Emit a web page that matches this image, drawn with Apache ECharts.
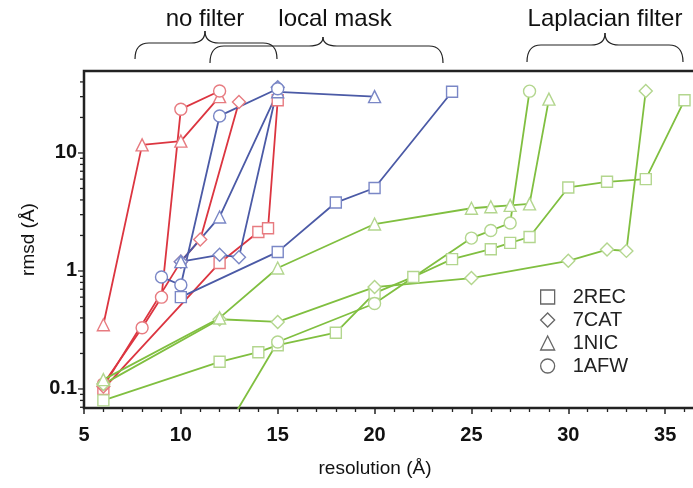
<!DOCTYPE html>
<html>
<head>
<meta charset="utf-8">
<title>rmsd vs resolution</title>
<script src="https://cdn.jsdelivr.net/npm/echarts@6/dist/echarts.min.js"></script>
<style>
  html, body { margin: 0; padding: 0; background: #fff; }
  #chart { width: 693px; height: 488px; }
</style>
</head>
<body>
<div id="chart"></div>
<script>
// Protein names and the marker each one uses
const proteins = ['2REC', '7CAT', '1NIC', '1AFW'];
const proteinSymbols = ['rect', 'diamond', 'triangle', 'circle'];

// rmsd (Å) against resolution (Å); no filter
const noFilter2REC = [[6, 0.1], [12, 1.17], [14, 2.14], [14.5, 2.3], [15, 28]];
const noFilter7CAT = [[6, 0.105], [10, 1.2], [11, 1.85], [13, 27]];
const noFilter1NIC = [[6, 0.35], [8, 11.7], [10, 12.6], [12, 30]];
const noFilter1AFW = [[6, 0.11], [8, 0.33], [9, 0.6], [10, 23.5], [12, 33.5]];

// local mask
const localMask2REC = [[10, 0.6], [15, 1.45], [18, 3.8], [20, 5.05], [24, 33]];
const localMask7CAT = [[10, 1.2], [12, 1.37], [13, 1.31], [15, 36]];
const localMask1NIC = [[10, 1.2], [12, 2.87], [15, 33], [20, 30]];
const localMask1AFW = [[9, 0.89], [10, 0.76], [12, 20.6], [15, 35]];

// Laplacian filter
const laplacian2REC = [[6, 0.08], [12, 0.17], [14, 0.205], [15, 0.235], [18, 0.3], [20, 0.65], [22, 0.89],
  [24, 1.26], [26, 1.53], [27, 1.73], [28, 1.94], [30, 5.1], [32, 5.7], [34, 6.0], [36, 28]];
const laplacian7CAT = [[6, 0.11], [12, 0.39], [15, 0.37], [20, 0.73], [25, 0.87], [30, 1.22], [32, 1.52], [33, 1.48], [34, 33.5]];
const laplacian1NIC = [[6, 0.12], [12, 0.4], [15, 1.06], [20, 2.5], [25, 3.4], [26, 3.5], [27, 3.6], [28, 3.7], [29, 28.6]];
const laplacian1AFW = [[12, 0.037], [15, 0.25], [20, 0.53], [25, 1.9], [26, 2.2], [27, 2.55], [28, 33.4]];

// Axis settings
const xTickValues = [5, 10, 15, 20, 25, 30, 35];
const yDecadeLabels = ['0.1', '1', '10'];
const groupLabels = ['no filter', 'local mask', 'Laplacian filter'];

const FONT = '"Liberation Sans", Arial, sans-serif';

const groups = [
  { name: 'no filter', line: '#dc3540', mark: '#e77b80', sets: [noFilter2REC, noFilter7CAT, noFilter1NIC, noFilter1AFW] },
  { name: 'local mask', line: '#4b5aa6', mark: '#7a87c6', sets: [localMask2REC, localMask7CAT, localMask1NIC, localMask1AFW] },
  { name: 'Laplacian filter', line: '#80bf40', mark: '#b3d68e', sets: [laplacian2REC, laplacian7CAT, laplacian1NIC, laplacian1AFW] }
];

const series = [];
groups.forEach(g => {
  g.sets.forEach((d, i) => {
    series.push({
      name: g.name + ' ' + proteins[i],
      type: 'line',
      data: d,
      symbol: proteinSymbols[i],
      symbolSize: proteinSymbols[i] === 'diamond' ? 13 : (proteinSymbols[i] === 'rect' ? 11 : 12),
      lineStyle: { color: g.line, width: 1.8 },
      itemStyle: { color: '#ffffff', borderColor: g.mark, borderWidth: 1.4 },
      clip: true,
      z: 3
    });
  });
});

// Legend-only entries (grey hollow markers)
proteins.forEach((p, i) => {
  series.push({ name: p, type: 'line', data: [], symbol: proteinSymbols[i],
    itemStyle: { color: '#fff', borderColor: '#666' } });
});

// Log-axis tick marks: decades long, 2..9 multiples short
const yTicks = [];
[0.01, 0.1, 1, 10].forEach(dec => {
  for (let k = 1; k <= 9; k++) {
    const v = +(dec * k).toPrecision(3);
    if (v >= 0.069 && v <= 49.5) yTicks.push([5, v, k === 1 ? 6 : 4]);
  }
});
series.push({
  type: 'custom',
  name: 'yticks',
  coordinateSystem: 'cartesian2d',
  data: yTicks,
  encode: { x: 0, y: 1 },
  clip: false,
  silent: true,
  z: 5,
  renderItem: (params, api) => {
    const p = api.coord([api.value(0), api.value(1)]);
    const len = api.value(2);
    return { type: 'line', shape: { x1: p[0] - len, y1: p[1], x2: p[0], y2: p[1] },
      style: { stroke: '#222', lineWidth: 1.3 } };
  }
});

// Curly brace built from quadratic curves and straight segments
function brace(x1, xm, x2, yb, yh, yp) {
  const r = 14;
  const st = { stroke: '#222', lineWidth: 1.2, fill: null };
  return [
    { type: 'bezierCurve', shape: { x1: x1, y1: yb, cpx1: x1, cpy1: yh, x2: x1 + r, y2: yh }, style: st },
    { type: 'line', shape: { x1: x1 + r, y1: yh, x2: xm - r, y2: yh }, style: st },
    { type: 'bezierCurve', shape: { x1: xm - r, y1: yh, cpx1: xm, cpy1: yh, x2: xm, y2: yp }, style: st },
    { type: 'bezierCurve', shape: { x1: xm, y1: yp, cpx1: xm, cpy1: yh, x2: xm + r, y2: yh }, style: st },
    { type: 'line', shape: { x1: xm + r, y1: yh, x2: x2 - r, y2: yh }, style: st },
    { type: 'bezierCurve', shape: { x1: x2 - r, y1: yh, cpx1: x2, cpy1: yh, x2: x2, y2: yb }, style: st }
  ];
}

const chart = echarts.init(document.getElementById('chart'));
chart.setOption({
  animation: false,
  backgroundColor: '#ffffff',
  grid: { left: 84, top: 71, width: 678, height: 337, outerBoundsMode: 'none', containLabel: false,
    show: true, borderColor: '#222', borderWidth: 2.5 },
  xAxis: {
    type: 'value', min: 5, max: 40, interval: 5,
    axisLine: { lineStyle: { color: '#222', width: 2 } },
    axisTick: { show: true, inside: false, length: 6, lineStyle: { color: '#222', width: 1.5 } },
    minorTick: { show: true, splitNumber: 5, length: 4, lineStyle: { color: '#222', width: 1.3 } },
    splitLine: { show: false },
    axisLabel: {
      margin: 17, color: '#111', fontFamily: FONT, fontSize: 20, fontWeight: 'bold',
      formatter: v => (xTickValues.indexOf(v) >= 0 ? String(v) : '')
    }
  },
  yAxis: {
    type: 'log', logBase: 10, min: 0.069, max: 49.5,
    name: 'rmsd (Å)', nameLocation: 'middle', nameGap: 45,
    nameTextStyle: { fontFamily: FONT, fontSize: 19, color: '#111' },
    axisLine: { lineStyle: { color: '#222', width: 2 } },
    axisTick: { show: false },
    splitLine: { show: false },
    axisLabel: {
      margin: 7, color: '#111', fontFamily: FONT, fontSize: 20, fontWeight: 'bold',
      formatter: v => {
        const e = Math.log10(v);
        if (Math.abs(e - Math.round(e)) > 1e-6) return '';
        return yDecadeLabels[Math.round(e) + 1] || '';
      }
    }
  },
  legend: {
    data: proteins.map((p, i) => ({ name: p, icon: proteinSymbols[i] })),
    orient: 'vertical', left: 535, top: 282,
    itemWidth: 14, itemHeight: 14, itemGap: 3,
    itemStyle: { color: '#ffffff', borderColor: '#666', borderWidth: 1.3 },
    textStyle: { fontFamily: FONT, fontSize: 20, color: '#222', padding: [0, 0, 0, 13] },
    selectedMode: false
  },
  graphic: [
    { type: 'text', style: { text: groupLabels[0], x: 205, y: 19, textAlign: 'center', textVerticalAlign: 'middle', font: '24px ' + FONT, fill: '#111' } },
    { type: 'text', style: { text: groupLabels[1], x: 335, y: 19, textAlign: 'center', textVerticalAlign: 'middle', font: '24px ' + FONT, fill: '#111' } },
    { type: 'text', style: { text: groupLabels[2], x: 605, y: 19, textAlign: 'center', textVerticalAlign: 'middle', font: '24px ' + FONT, fill: '#111' } },
    { type: 'text', style: { text: 'resolution (Å)', x: 375, y: 469, textAlign: 'center', textVerticalAlign: 'middle', font: '19px ' + FONT, fill: '#111' } }
  ].concat(brace(135, 205, 277, 59, 43, 31), brace(210, 323, 443, 63, 46, 37), brace(527, 605, 683, 62, 45, 33)),
  series: series
});
</script>
</body>
</html>
